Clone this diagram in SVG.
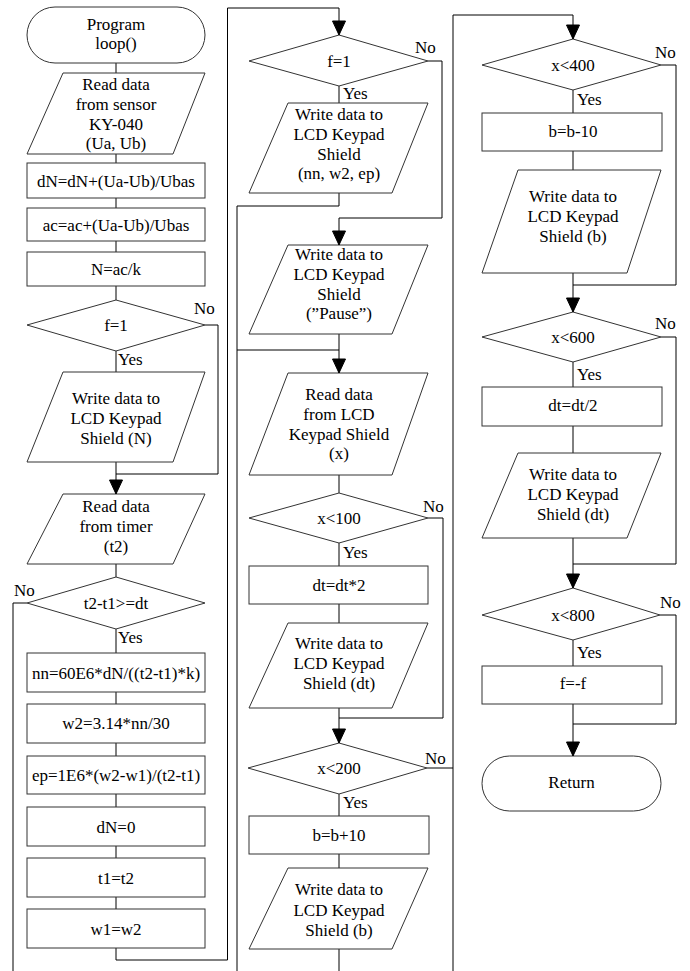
<svg xmlns="http://www.w3.org/2000/svg" width="690" height="971" viewBox="0 0 690 971">
<style>
.s{fill:#fff;stroke:#333;stroke-width:1}
.c{fill:none;stroke:#000;stroke-width:1}
text{font-family:'Liberation Serif','Times New Roman',serif;font-size:17px;fill:#000}
.m{text-anchor:middle}
</style>
<rect width="690" height="971" fill="#fff"/>
<g id="connectors">
<path class="c" d="M116,63V73M116,154V163M116,198V208M116,241V252M116,286V300M116,351V372M116,564V577M116,629V653M116,692V704M116,743V756M116,794V807M116,846V858M116,897V909"/>
<path class="c" d="M116,462V494"/>
<path class="c" d="M205,325H218V474H116"/>
<path class="c" d="M27,603H13V971"/>
<path class="c" d="M116,948V960H227.5V8H339V35"/>
<path class="c" d="M428,61H442V218H339V245"/>
<path class="c" d="M339,86V103"/>
<path class="c" d="M339,193V206H237V971"/>
<path class="c" d="M237,350H339"/>
<path class="c" d="M339,334V373"/>
<path class="c" d="M339,475V493M339,543V566M339,604V623M339,794V816M339,854V868M339,949V971"/>
<path class="c" d="M428,518H443V718H339"/>
<path class="c" d="M339,708V743"/>
<path class="c" d="M427,768H453"/>
<path class="c" d="M453,971V15H573V39"/>
<path class="c" d="M661,65H676V285H573"/>
<path class="c" d="M573,90V113M573,151V170M573,362V387M573,426V453M573,640V666"/>
<path class="c" d="M573,273V312"/>
<path class="c" d="M661,337H676V564H573"/>
<path class="c" d="M573,538V588"/>
<path class="c" d="M660,615H676V724H573"/>
<path class="c" d="M573,704V756"/>
</g>
<g id="labels">
<text x="194" y="314">No</text>
<text x="118" y="365">Yes</text>
<text x="14" y="596">No</text>
<text x="118" y="643">Yes</text>
<text x="415" y="53">No</text>
<text x="343" y="99">Yes</text>
<text x="423" y="512">No</text>
<text x="343" y="558">Yes</text>
<text x="425" y="764">No</text>
<text x="343" y="808">Yes</text>
<text x="655" y="58">No</text>
<text x="577" y="105">Yes</text>
<text x="655" y="329">No</text>
<text x="577" y="380">Yes</text>
<text x="660" y="608">No</text>
<text x="577" y="658">Yes</text>
</g>
<g id="start"><rect class="s" x="27" y="7" width="178" height="56" rx="28"/><text class="m" x="116" y="29.5">Program</text><text class="m" x="116" y="49">loop()</text></g>
<g id="readSensor"><polygon class="s" points="63,73 205,73 173,154 27,154"/><text class="m" x="116" y="90">Read data</text><text class="m" x="116" y="110">from sensor</text><text class="m" x="116" y="129.5">KY-040</text><text class="m" x="116" y="149">(Ua, Ub)</text></g>
<g id="dN"><rect class="s" x="27" y="163" width="178" height="35"/><text class="m" x="116" y="186.5">dN=dN+(Ua-Ub)/Ubas</text></g>
<g id="ac"><rect class="s" x="27" y="208" width="178" height="33"/><text class="m" x="116" y="230.5">ac=ac+(Ua-Ub)/Ubas</text></g>
<g id="N"><rect class="s" x="27" y="252" width="178" height="34"/><text class="m" x="116" y="275">N=ac/k</text></g>
<g id="f1a"><polygon class="s" points="116,300 205,325 116,351 27,325"/><text class="m" x="116" y="331">f=1</text></g>
<g id="writeN"><polygon class="s" points="63,372 205,372 173,462 27,462"/><text class="m" x="116" y="404">Write data to</text><text class="m" x="116" y="424">LCD Keypad</text><text class="m" x="116" y="444">Shield (N)</text></g>
<g id="readTimer"><polygon class="s" points="63,494 205,494 173,564 27,564"/><text class="m" x="116" y="511.5">Read data</text><text class="m" x="116" y="531.5">from timer</text><text class="m" x="116" y="551.5">(t2)</text></g>
<g id="t2t1"><polygon class="s" points="116,577 205,603 116,629 27,603"/><text class="m" x="116" y="609">t2-t1&gt;=dt</text></g>
<g id="nn"><rect class="s" x="27" y="653" width="178" height="39"/><text class="m" x="116" y="678.5">nn=60E6*dN/((t2-t1)*k)</text></g>
<g id="w2"><rect class="s" x="27" y="704" width="178" height="39"/><text class="m" x="116" y="729">w2=3.14*nn/30</text></g>
<g id="ep"><rect class="s" x="27" y="756" width="178" height="38"/><text class="m" x="116" y="781">ep=1E6*(w2-w1)/(t2-t1)</text></g>
<g id="dN0"><rect class="s" x="27" y="807" width="178" height="39"/><text class="m" x="116" y="832.5">dN=0</text></g>
<g id="t1t2"><rect class="s" x="27" y="858" width="178" height="39"/><text class="m" x="116" y="883.5">t1=t2</text></g>
<g id="w1w2"><rect class="s" x="27" y="909" width="178" height="39"/><text class="m" x="116" y="934.5">w1=w2</text></g>
<g id="f1b"><polygon class="s" points="339,35 428,61 339,86 249,61"/><text class="m" x="339" y="67">f=1</text></g>
<g id="writeNn"><polygon class="s" points="288,103 428,103 392,193 249,193"/><text class="m" x="339" y="119.5">Write data to</text><text class="m" x="339" y="139.5">LCD Keypad</text><text class="m" x="339" y="159.5">Shield</text><text class="m" x="339" y="178.5">(nn, w2, ep)</text></g>
<g id="writePause"><polygon class="s" points="288,245 428,245 392,334 249,334"/><text class="m" x="339" y="259.5">Write data to</text><text class="m" x="339" y="279.5">LCD Keypad</text><text class="m" x="339" y="299.5">Shield</text><text class="m" x="339" y="318.5">(”Pause”)</text></g>
<g id="readLCD"><polygon class="s" points="288,373 428,373 392,475 249,475"/><text class="m" x="339" y="399.5">Read data</text><text class="m" x="339" y="419.5">from LCD</text><text class="m" x="339" y="439.5">Keypad Shield</text><text class="m" x="339" y="458.5">(x)</text></g>
<g id="x100"><polygon class="s" points="339,493 428,518 339,543 249,518"/><text class="m" x="339" y="523.5">x&lt;100</text></g>
<g id="dtx2"><rect class="s" x="249" y="566" width="179" height="38"/><text class="m" x="339" y="591">dt=dt*2</text></g>
<g id="writeDt1"><polygon class="s" points="288,623 428,623 392,708 249,708"/><text class="m" x="339" y="648.5">Write data to</text><text class="m" x="339" y="668.5">LCD Keypad</text><text class="m" x="339" y="688.5">Shield (dt)</text></g>
<g id="x200"><polygon class="s" points="339,743 427,768 339,794 248,768"/><text class="m" x="339" y="774">x&lt;200</text></g>
<g id="bplus"><rect class="s" x="249" y="816" width="180" height="38"/><text class="m" x="339" y="841">b=b+10</text></g>
<g id="writeB1"><polygon class="s" points="288,868 428,868 392,949 249,949"/><text class="m" x="339" y="895">Write data to</text><text class="m" x="339" y="915.5">LCD Keypad</text><text class="m" x="339" y="935.5">Shield (b)</text></g>
<g id="x400"><polygon class="s" points="573,39 661,65 573,90 482,65"/><text class="m" x="573" y="71">x&lt;400</text></g>
<g id="bminus"><rect class="s" x="482" y="113" width="180" height="38"/><text class="m" x="573" y="137">b=b-10</text></g>
<g id="writeB2"><polygon class="s" points="518,170 661,170 627,273 482,273"/><text class="m" x="573" y="201.5">Write data to</text><text class="m" x="573" y="221.5">LCD Keypad</text><text class="m" x="573" y="241.5">Shield (b)</text></g>
<g id="x600"><polygon class="s" points="573,312 661,337 573,362 482,337"/><text class="m" x="573" y="343">x&lt;600</text></g>
<g id="dtdiv"><rect class="s" x="482" y="387" width="180" height="39"/><text class="m" x="573" y="411">dt=dt/2</text></g>
<g id="writeDt2"><polygon class="s" points="518,453 661,453 627,538 482,538"/><text class="m" x="573" y="480">Write data to</text><text class="m" x="573" y="500">LCD Keypad</text><text class="m" x="573" y="520">Shield (dt)</text></g>
<g id="x800"><polygon class="s" points="573,588 660,615 573,640 482,615"/><text class="m" x="573" y="621">x&lt;800</text></g>
<g id="fneg"><rect class="s" x="482" y="666" width="180" height="38"/><text class="m" x="573" y="689">f=-f</text></g>
<g id="return"><rect class="s" x="482" y="756" width="179" height="55" rx="27.5"/><text class="m" x="571.5" y="787.5">Return</text></g>
<g id="arrowheads" fill="#000" stroke="#000" stroke-width="1">
<path d="M109.5,480 L122.5,480 L116,494 Z" style="fill:#000"/>
<path d="M332.5,21 L345.5,21 L339,35 Z" style="fill:#000"/>
<path d="M332.5,231 L345.5,231 L339,245 Z" style="fill:#000"/>
<path d="M332.5,359 L345.5,359 L339,373 Z" style="fill:#000"/>
<path d="M332.5,729 L345.5,729 L339,743 Z" style="fill:#000"/>
<path d="M566.5,25 L579.5,25 L573,39 Z" style="fill:#000"/>
<path d="M566.5,298 L579.5,298 L573,312 Z" style="fill:#000"/>
<path d="M566.5,574 L579.5,574 L573,588 Z" style="fill:#000"/>
<path d="M566.5,742 L579.5,742 L573,756 Z" style="fill:#000"/>
</g>
</svg>
